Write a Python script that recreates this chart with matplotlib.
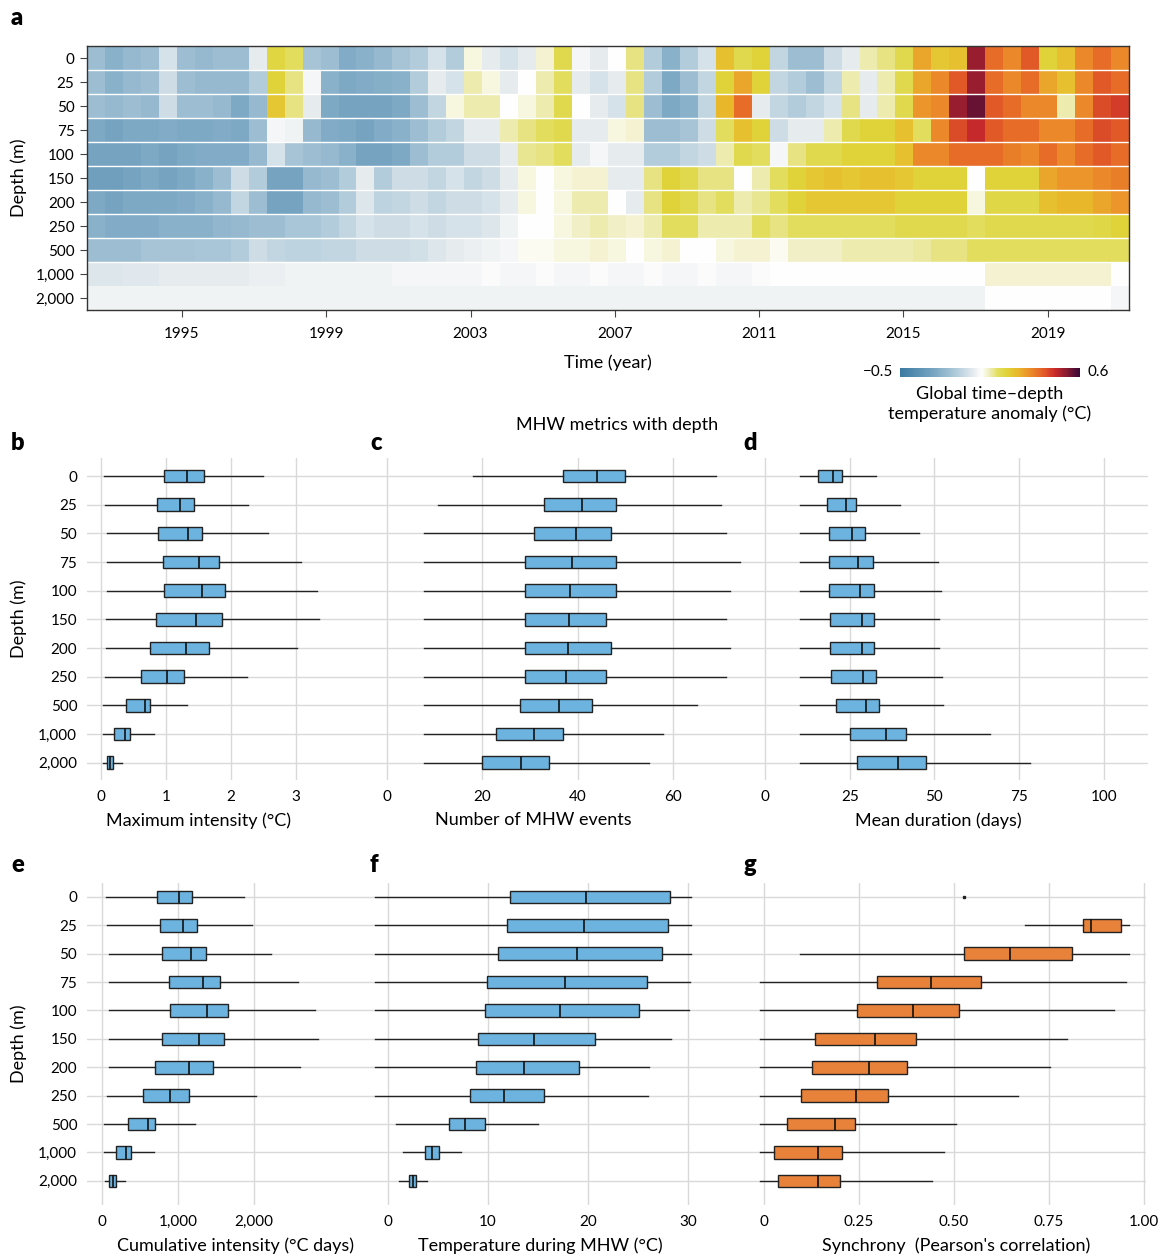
import numpy as np
import matplotlib
matplotlib.use("Agg")
import matplotlib.pyplot as plt
from matplotlib.colors import LinearSegmentedColormap, Normalize
from matplotlib.cm import ScalarMappable

plt.rcParams['font.family'] = ['Lato', 'DejaVu Sans']

W, H = 1164, 1256

depth_labels = ['0', '25', '50', '75', '100', '150', '200', '250', '500', '1,000', '2,000']

# ---- panel a: global temperature anomaly (deg C), half-year bins 1992.4 - 2021.25
anom_0 = [-0.2, -0.25, -0.22, -0.2, -0.08, -0.2, -0.22, -0.2, -0.2, -0.05, 0.14, 0.1, -0.18, -0.2, -0.27, -0.25, -0.22, -0.18, -0.15,
          -0.08, -0.15, 0.02, -0.05, -0.08, -0.05, 0.03, 0.12, -0.02, -0.05, 0.0, 0.08, -0.15, -0.25, -0.15, -0.08, 0.2, 0.12, 0.15,
          -0.12, -0.2, -0.2, -0.1, -0.05, 0.05, 0.08, 0.12, 0.25, 0.18, 0.2, 0.5, 0.35, 0.3, 0.38, 0.15, 0.2, 0.3, 0.35, 0.3]
anom_25 = [-0.2, -0.25, -0.22, -0.2, -0.1, -0.2, -0.22, -0.22, -0.22, -0.15, 0.15, 0.08, -0.02, -0.25, -0.28, -0.27, -0.26, -0.25, -0.15,
           -0.05, -0.08, 0.05, 0.02, -0.05, 0.0, 0.05, 0.1, -0.05, -0.08, -0.05, 0.08, -0.15, -0.28, -0.2, -0.12, 0.15, 0.25, 0.15,
           -0.12, -0.15, -0.2, -0.12, 0.05, -0.05, 0.05, 0.12, 0.25, 0.3, 0.38, 0.5, 0.35, 0.3, 0.35, 0.25, 0.2, 0.3, 0.38, 0.35]
anom_50 = [-0.2, -0.22, -0.2, -0.22, -0.1, -0.2, -0.2, -0.22, -0.28, -0.22, 0.18, 0.08, -0.05, -0.28, -0.3, -0.3, -0.3, -0.28, -0.2,
           -0.12, 0.02, 0.05, 0.05, 0.0, 0.02, 0.05, 0.12, 0.0, -0.05, -0.08, 0.08, -0.2, -0.28, -0.25, -0.12, 0.22, 0.35, -0.05,
           -0.12, -0.15, -0.12, -0.08, 0.08, -0.05, 0.05, 0.12, 0.28, 0.3, 0.5, 0.55, 0.38, 0.35, 0.3, 0.3, 0.05, 0.3, 0.4, 0.42]
anom_75 = [-0.28, -0.3, -0.28, -0.28, -0.27, -0.28, -0.28, -0.27, -0.28, -0.2, -0.02, -0.03, -0.22, -0.27, -0.28, -0.3, -0.27, -0.25, -0.2,
           -0.15, -0.12, -0.05, -0.05, 0.05, 0.08, 0.1, 0.12, -0.05, -0.05, 0.02, 0.03, -0.2, -0.2, -0.18, -0.1, 0.1, 0.2, 0.15,
           -0.1, -0.05, -0.05, 0.05, 0.12, 0.15, 0.15, 0.2, 0.1, 0.3, 0.4, 0.45, 0.38, 0.35, 0.35, 0.3, 0.3, 0.35, 0.4, 0.38]
anom_100 = [-0.3, -0.3, -0.3, -0.28, -0.3, -0.28, -0.27, -0.27, -0.27, -0.22, -0.08, -0.18, -0.2, -0.22, -0.25, -0.3, -0.3, -0.28, -0.2,
            -0.15, -0.15, -0.1, -0.1, -0.05, 0.07, 0.08, 0.1, -0.05, -0.02, -0.05, -0.05, -0.15, -0.15, -0.12, -0.1, 0.05, 0.12, 0.1,
            -0.02, 0.08, 0.12, 0.12, 0.15, 0.15, 0.15, 0.2, 0.3, 0.3, 0.35, 0.35, 0.35, 0.32, 0.3, 0.35, 0.3, 0.35, 0.38, 0.35]
anom_150 = [-0.32, -0.32, -0.3, -0.28, -0.3, -0.28, -0.25, -0.2, -0.1, -0.15, -0.3, -0.3, -0.22, -0.2, -0.15, -0.05, -0.15, -0.1, -0.1,
            -0.12, -0.08, -0.12, -0.1, -0.05, 0.02, 0.0, 0.02, 0.03, 0.03, -0.05, -0.05, 0.08, 0.15, 0.12, 0.08, 0.08, 0.0, 0.05,
            0.1, 0.15, 0.18, 0.2, 0.18, 0.2, 0.2, 0.18, 0.15, 0.15, 0.15, 0.0, 0.15, 0.15, 0.15, 0.25, 0.28, 0.28, 0.3, 0.32]
anom_200 = [-0.28, -0.3, -0.28, -0.28, -0.28, -0.27, -0.25, -0.22, -0.12, -0.2, -0.3, -0.3, -0.22, -0.2, -0.15, -0.07, -0.13, -0.12, -0.1,
            -0.12, -0.1, -0.1, -0.08, -0.05, 0.02, 0.0, 0.02, 0.05, 0.05, 0.0, -0.05, 0.08, 0.15, 0.12, 0.08, 0.1, 0.05, 0.07,
            0.1, 0.15, 0.18, 0.18, 0.18, 0.18, 0.18, 0.15, 0.15, 0.15, 0.15, 0.02, 0.13, 0.13, 0.13, 0.2, 0.22, 0.22, 0.25, 0.28]
anom_250 = [-0.25, -0.27, -0.27, -0.27, -0.25, -0.25, -0.25, -0.23, -0.22, -0.2, -0.2, -0.17, -0.17, -0.15, -0.12, -0.08, -0.1, -0.1, -0.08,
            -0.1, -0.08, -0.08, -0.07, -0.03, 0.0, 0.0, 0.02, 0.04, 0.05, 0.04, 0.03, 0.05, 0.1, 0.1, 0.05, 0.05, 0.05, 0.1,
            0.08, 0.1, 0.1, 0.1, 0.1, 0.1, 0.1, 0.12, 0.12, 0.12, 0.12, 0.1, 0.12, 0.12, 0.12, 0.12, 0.12, 0.12, 0.13, 0.15]
anom_500 = [-0.2, -0.2, -0.2, -0.18, -0.18, -0.18, -0.17, -0.17, -0.15, -0.1, -0.12, -0.13, -0.13, -0.12, -0.12, -0.1, -0.1, -0.1, -0.09,
            -0.07, -0.05, -0.04, -0.03, -0.02, 0.01, 0.01, 0.02, 0.02, 0.03, 0.02, 0.0, 0.02, 0.03, 0.0, 0.0, 0.02, 0.03, 0.03,
            0.01, 0.04, 0.04, 0.04, 0.05, 0.05, 0.05, 0.05, 0.06, 0.08, 0.08, 0.1, 0.1, 0.1, 0.1, 0.1, 0.1, 0.1, 0.1, 0.1]
anom_1000 = [-0.07, -0.07, -0.06, -0.06, -0.05, -0.05, -0.05, -0.05, -0.05, -0.04, -0.04, -0.03, -0.03, -0.03, -0.03, -0.03, -0.03, -0.02, -0.02,
             -0.02, -0.02, -0.02, -0.01, -0.02, -0.02, -0.01, -0.02, -0.02, -0.01, -0.02, -0.02, -0.01, -0.02, -0.02, -0.01, -0.02, -0.02, -0.01,
             0.0, 0.0, 0.0, 0.0, 0.0, 0.0, 0.0, 0.0, 0.0, 0.0, 0.0, 0.0, 0.03, 0.03, 0.03, 0.03, 0.03, 0.03, 0.03, 0.0]
anom_2000 = [-0.03, -0.03, -0.03, -0.03, -0.03, -0.03, -0.03, -0.03, -0.03, -0.03, -0.03, -0.03, -0.03, -0.03, -0.03, -0.03, -0.03, -0.03, -0.03,
             -0.03, -0.03, -0.03, -0.03, -0.03, -0.03, -0.03, -0.03, -0.03, -0.03, -0.03, -0.03, -0.03, -0.03, -0.03, -0.03, -0.03, -0.03, -0.03,
             -0.03, -0.03, -0.03, -0.03, -0.03, -0.03, -0.03, -0.03, -0.03, -0.03, -0.03, -0.03, 0.0, 0.0, 0.0, 0.0, 0.0, 0.0, 0.0, -0.02]

year_ticks = [1995, 1999, 2003, 2007, 2011, 2015, 2019]
t_start, t_end = 1992.37, 2021.25

# ---- panels b-g: (lower whisker, q1, median, q3, upper whisker) per depth
max_intensity = [(0.05, 0.97, 1.32, 1.58, 2.49), (0.06, 0.86, 1.22, 1.43, 2.27), (0.09, 0.88, 1.34, 1.56, 2.57),
                 (0.09, 0.95, 1.51, 1.81, 3.08), (0.09, 0.97, 1.56, 1.91, 3.33), (0.08, 0.85, 1.46, 1.86, 3.36),
                 (0.08, 0.76, 1.31, 1.67, 3.02), (0.06, 0.62, 1.01, 1.27, 2.24), (0.03, 0.39, 0.68, 0.76, 1.32),
                 (0.03, 0.20, 0.37, 0.45, 0.82), (0.03, 0.09, 0.14, 0.19, 0.32)]
n_events = [(18.0, 36.9, 44.1, 50.0, 69.0), (10.8, 32.9, 41.0, 48.0, 70.1), (7.8, 30.9, 39.7, 47.0, 71.1),
            (7.8, 28.9, 38.8, 48.0, 74.1), (7.8, 28.9, 38.5, 48.0, 72.0), (7.8, 28.9, 38.1, 46.0, 71.1),
            (7.8, 28.9, 38.0, 47.0, 72.0), (7.8, 28.9, 37.5, 46.0, 71.1), (7.8, 27.9, 36.1, 43.0, 65.0),
            (7.8, 22.9, 30.8, 37.0, 58.0), (7.8, 19.9, 28.1, 34.0, 55.0)]
mean_duration = [(10.4, 15.6, 20.2, 22.6, 32.8), (10.4, 18.4, 23.8, 27.0, 39.9), (10.4, 18.9, 25.8, 29.5, 45.3),
                 (10.4, 19.0, 27.5, 31.9, 50.9), (10.4, 19.0, 27.9, 32.3, 52.0), (10.4, 19.3, 28.7, 32.2, 51.2),
                 (10.4, 19.3, 28.7, 32.3, 51.3), (10.4, 19.6, 29.0, 32.7, 52.2), (10.4, 21.0, 29.8, 33.7, 52.5),
                 (10.4, 25.0, 35.7, 41.6, 66.3), (10.4, 27.2, 39.3, 47.6, 78.1)]
cum_intensity = [(52, 729, 1009, 1188, 1869), (61, 764, 1070, 1245, 1969), (92, 795, 1166, 1371, 2227),
                 (92, 882, 1332, 1559, 2581), (92, 895, 1384, 1659, 2803), (92, 786, 1279, 1611, 2847),
                 (92, 699, 1148, 1463, 2607), (61, 546, 895, 1140, 2031), (26, 336, 603, 694, 1227),
                 (26, 179, 319, 380, 681), (35, 87, 144, 179, 297)]
temp_mhw = [(-1.3, 12.2, 19.8, 28.2, 30.3), (-1.3, 11.9, 19.6, 28.0, 30.3), (-1.3, 11.0, 18.9, 27.4, 30.3),
            (-1.3, 9.9, 17.7, 25.9, 30.2), (-1.3, 9.7, 17.2, 25.1, 30.1), (-1.3, 9.0, 14.6, 20.7, 28.3),
            (-1.3, 8.8, 13.6, 19.1, 26.1), (-1.3, 8.2, 11.6, 15.6, 26.0), (0.8, 6.1, 7.7, 9.7, 15.0),
            (1.5, 3.7, 4.4, 5.1, 7.3), (1.1, 2.1, 2.5, 2.8, 3.9)]
synchrony = [None, (0.686, 0.839, 0.859, 0.940, 0.961), (0.096, 0.525, 0.648, 0.810, 0.961),
             (-0.011, 0.298, 0.440, 0.570, 0.952), (-0.011, 0.244, 0.391, 0.514, 0.920), (-0.011, 0.134, 0.291, 0.399, 0.797),
             (-0.011, 0.127, 0.277, 0.377, 0.753), (-0.011, 0.098, 0.242, 0.326, 0.667), (-0.011, 0.061, 0.187, 0.239, 0.505),
             (-0.011, 0.027, 0.143, 0.206, 0.473), (-0.011, 0.038, 0.142, 0.200, 0.441)]
synchrony_surface = 0.527  # surface layer collapses to a single value

blue_box = '#6db3df'
orange_box = '#e8823a'

# colour map for the anomaly (values in deg C)
vmin, vmax = -0.5, 0.6
nodes = [(-0.5, '#3b7aa2'), (-0.3, '#76a4c1'), (-0.15, '#b3cddc'), (-0.04, '#eceff1'), (0.0, '#ffffff'),
         (0.04, '#f1efc4'), (0.1, '#e2dd5c'), (0.15, '#e0d43a'), (0.22, '#e9b82a'), (0.3, '#ec8a2a'),
         (0.38, '#e35a28'), (0.45, '#c92a2b'), (0.6, '#3a0838')]
cmap = LinearSegmentedColormap.from_list('anom', [((v - vmin) / (vmax - vmin), c) for v, c in nodes])
norm = Normalize(vmin, vmax)

LABEL_FS = 13
TICK_FS = 11


def fx(px):
    return px / W


def fy(py):
    return 1 - py / H


def add_axes(x0, y0, x1, y1):
    return fig.add_axes([fx(x0), fy(y1), fx(x1 - x0), (y1 - y0) / H])


fig = plt.figure(figsize=(W / 100, H / 100), dpi=100)

# ---------------- panel a
ax = add_axes(87, 46, 1129, 310)
anomaly = np.array([anom_0, anom_25, anom_50, anom_75, anom_100, anom_150,
                    anom_200, anom_250, anom_500, anom_1000, anom_2000])
ax.imshow(anomaly, aspect='auto', cmap=cmap, norm=norm, interpolation='nearest',
          extent=[t_start, t_end, 10.5, -0.5])
for k in range(9):
    ax.axhline(k + 0.5, color='white', lw=1.0)
ax.set_xlim(t_start, t_end)
ax.set_ylim(10.5, -0.5)
ax.set_yticks(range(11))
ax.set_yticklabels(depth_labels, fontsize=TICK_FS)
ax.set_xticks(year_ticks)
ax.set_xticklabels([str(y) for y in year_ticks], fontsize=TICK_FS)
ax.tick_params(axis='y', length=5, width=0.8, color='#444444', pad=4)
ax.tick_params(axis='x', length=5, width=0.8, color='#444444', pad=7)
for s in ax.spines.values():
    s.set_linewidth(1.0)
    s.set_color('#333333')
ax.set_ylabel('Depth (m)', fontsize=LABEL_FS, labelpad=6)
ax.set_xlabel('Time (year)', fontsize=LABEL_FS, labelpad=10)

cax = add_axes(900, 368, 1080, 377)
cb = fig.colorbar(ScalarMappable(norm=norm, cmap=cmap), cax=cax, orientation='horizontal')
cb.set_ticks([])
cb.outline.set_visible(False)
fig.text(fx(893), fy(372), '\u22120.5', ha='right', va='center', fontsize=TICK_FS)
fig.text(fx(1087), fy(372), '0.6', ha='left', va='center', fontsize=TICK_FS)
fig.text(fx(990), fy(404), 'Global time\u2013depth\ntemperature anomaly (\u00b0C)', ha='center', va='center',
         fontsize=LABEL_FS, linespacing=1.3)

fig.text(fx(617), fy(425), 'MHW metrics with depth', ha='center', va='center', fontsize=LABEL_FS)


# ---------------- box panels
def box_panel(ax, rows, xlim, ylim, ticks, ticklabels, xlabel, label_x, color, show_y):
    stats, pos = [], []
    for i, r in enumerate(rows):
        if r is None:
            continue
        lo, q1, med, q3, hi = r
        stats.append(dict(whislo=lo, q1=q1, med=med, q3=q3, whishi=hi, fliers=[]))
        pos.append(i)
    ax.bxp(stats, positions=pos, widths=0.44, orientation='horizontal', patch_artist=True,
           showcaps=False, showfliers=False, manage_ticks=False,
           boxprops=dict(facecolor=color, edgecolor='#222222', linewidth=1.0),
           medianprops=dict(color='#111111', linewidth=1.2),
           whiskerprops=dict(color='#222222', linewidth=1.0))
    ax.set_xlim(xlim)
    ax.set_ylim(ylim)
    ax.set_xticks(ticks)
    ax.set_xticklabels(ticklabels, fontsize=TICK_FS)
    ax.set_yticks(range(11))
    if show_y:
        ax.set_yticklabels(depth_labels, fontsize=TICK_FS)
        ax.set_ylabel('Depth (m)', fontsize=LABEL_FS, labelpad=8)
    else:
        ax.set_yticklabels([])
    ax.grid(True, color='#d9d9d9', lw=1.0)
    ax.set_axisbelow(True)
    ax.tick_params(length=0, pad=7)
    for s in ax.spines.values():
        s.set_visible(False)
    ax.set_xlabel(xlabel, fontsize=LABEL_FS, labelpad=6)
    # centre of the label in figure pixels -> axes fraction
    bb = ax.get_position()
    ax.xaxis.label.set_x((label_x / W - bb.x0) / bb.width)


ylim_top = (10.6, -0.63)
ax_b = add_axes(87, 458, 383, 780)
box_panel(ax_b, max_intensity, (-0.215, 4.34), ylim_top, [0, 1, 2, 3], ['0', '1', '2', '3'],
          'Maximum intensity (\u00b0C)', 198, blue_box, True)
ax_c = add_axes(383, 458, 752, 780)
box_panel(ax_c, n_events, (-0.84, 76.6), ylim_top, [0, 20, 40, 60], ['0', '20', '40', '60'],
          'Number of MHW events', 533, blue_box, False)
ax_d = add_axes(752, 458, 1148, 780)
box_panel(ax_d, mean_duration, (-3.83, 113.0), ylim_top, [0, 25, 50, 75, 100], ['0', '25', '50', '75', '100'],
          'Mean duration (days)', 938, blue_box, False)

ylim_bot = (10.85, -0.49)
ax_e = add_axes(87, 883, 370, 1205)
box_panel(ax_e, cum_intensity, (-197, 3526), ylim_bot, [0, 1000, 2000], ['0', '1,000', '2,000'],
          'Cumulative intensity (\u00b0C days)', 235, blue_box, True)
ax_f = add_axes(370, 883, 752, 1205)
box_panel(ax_f, temp_mhw, (-1.8, 36.4), ylim_bot, [0, 10, 20, 30], ['0', '10', '20', '30'],
          'Temperature during MHW (\u00b0C)', 540, blue_box, False)
ax_g = add_axes(752, 883, 1146, 1205)
box_panel(ax_g, synchrony, (-0.0316, 1.005), ylim_bot, [0, 0.25, 0.5, 0.75, 1.0],
          ['0', '0.25', '0.50', '0.75', '1.00'], 'Synchrony  (Pearson\'s correlation)', 956, orange_box, False)
ax_g.plot([synchrony_surface], [0], 's', ms=1.5, color='#222222')

# panel letters
for letter, x, y in [('a', 17, 18), ('b', 18, 443), ('c', 376, 443), ('d', 750, 443),
                     ('e', 18, 865), ('f', 374, 865), ('g', 750, 865)]:
    fig.text(fx(x), fy(y), letter, ha='center', va='center', fontsize=17, fontweight='heavy')

fig.savefig('out.png', dpi=100)
